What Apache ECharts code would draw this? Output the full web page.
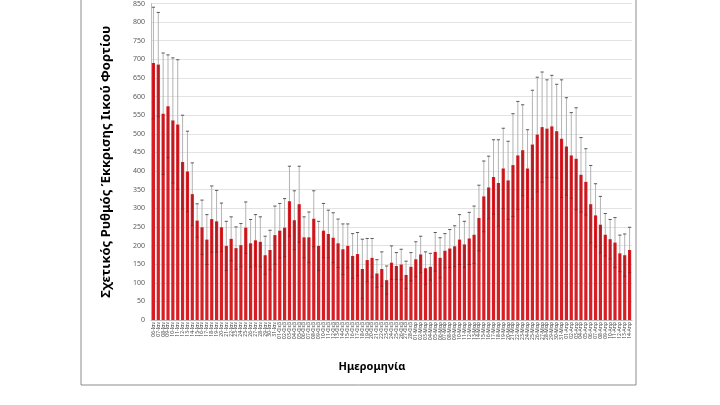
<!DOCTYPE html>
<html>
<head>
<meta charset="utf-8">
<title>Ιικό φορτίο</title>
<script src="https://cdn.jsdelivr.net/npm/echarts@6/dist/echarts.min.js"></script>
<style>
  html, body { margin: 0; padding: 0; background: #fff; }
  #main { width: 720px; height: 405px; }
</style>
</head>
<body>
<div id="main"></div>
<script>
// ημερομηνίες δειγματοληψίας
var dates = [
  '06-Ιαν','07-Ιαν','08-Ιαν','09-Ιαν','10-Ιαν','11-Ιαν','12-Ιαν','13-Ιαν','14-Ιαν','15-Ιαν',
  '16-Ιαν','17-Ιαν','18-Ιαν','19-Ιαν','20-Ιαν','21-Ιαν','22-Ιαν','23-Ιαν','24-Ιαν','25-Ιαν',
  '26-Ιαν','27-Ιαν','28-Ιαν','29-Ιαν','30-Ιαν','31-Ιαν',
  '01-Φεβ','02-Φεβ','03-Φεβ','04-Φεβ','05-Φεβ','06-Φεβ','07-Φεβ','08-Φεβ','09-Φεβ','10-Φεβ',
  '11-Φεβ','12-Φεβ','13-Φεβ','14-Φεβ','15-Φεβ','16-Φεβ','17-Φεβ','18-Φεβ','19-Φεβ','20-Φεβ',
  '21-Φεβ','22-Φεβ','23-Φεβ','24-Φεβ','25-Φεβ','26-Φεβ','27-Φεβ','28-Φεβ',
  '01-Μαρ','02-Μαρ','03-Μαρ','04-Μαρ','05-Μαρ','06-Μαρ','07-Μαρ','08-Μαρ','09-Μαρ','10-Μαρ',
  '11-Μαρ','12-Μαρ','13-Μαρ','14-Μαρ','15-Μαρ','16-Μαρ','17-Μαρ','18-Μαρ','19-Μαρ','20-Μαρ',
  '21-Μαρ','22-Μαρ','23-Μαρ','24-Μαρ','25-Μαρ','26-Μαρ','27-Μαρ','28-Μαρ','29-Μαρ','30-Μαρ','31-Μαρ',
  '01-Απρ','02-Απρ','03-Απρ','04-Απρ','05-Απρ','06-Απρ','07-Απρ','08-Απρ','09-Απρ','10-Απρ',
  '11-Απρ','12-Απρ','13-Απρ','14-Απρ'
];

// σχετικός ρυθμός (ύψος ράβδου)
var values = [
  690, 686, 554, 574, 536, 525, 424, 399, 338, 267,
  249, 216, 271, 265, 249, 199, 218, 193, 201, 248,
  206, 214, 210, 174, 188, 228, 240, 248, 319, 268,
  311, 222, 222, 272, 199, 240, 231, 221, 206, 190,
  199, 172, 177, 137, 161, 167, 125, 137, 107, 154,
  145, 149, 121, 143, 163, 176, 139, 143, 183, 167,
  186, 192, 198, 216, 203, 219, 229, 274, 332, 356,
  384, 368, 407, 375, 416, 442, 456, 407, 471, 498,
  518, 514, 520, 507, 487, 466, 442, 433, 390, 371,
  311, 281, 256, 229, 217, 208, 179, 174, 188
];

// άνω όριο της μπάρας σφάλματος
var upper = [
  840, 826, 717, 712, 704, 699, 550, 507, 422, 312,
  322, 283, 360, 348, 314, 265, 277, 250, 259, 317,
  270, 283, 277, 225, 241, 306, 313, 326, 413, 347,
  413, 277, 290, 347, 265, 313, 295, 288, 271, 258,
  258, 232, 235, 217, 219, 219, 162, 183, 145, 199,
  181, 190, 158, 181, 210, 225, 183, 179, 235, 221,
  232, 243, 253, 283, 265, 289, 306, 362, 427, 440,
  484, 484, 515, 480, 554, 587, 578, 511, 617, 652,
  666, 645, 657, 633, 645, 597, 557, 570, 490, 460,
  415, 366, 332, 286, 270, 275, 228, 231, 249
];

var yMin = 0, yMax = 850, yStep = 50;

var errData = values.map(function (v, i) {
  return [i, v - (upper[i] - v), upper[i]];
});

var chart = echarts.init(document.getElementById('main'));

chart.setOption({
  animation: false,
  textStyle: { fontFamily: 'Noto Sans' },
  grid: { left: 151, right: 88, top: 2, bottom: 85 },
  graphic: [
    {
      type: 'rect',
      shape: { x: 81, y: -5, width: 555, height: 390 },
      style: { fill: null, stroke: '#8c8c8c', lineWidth: 1 },
      silent: true
    },
    {
      type: 'text',
      x: 372, y: 367,
      style: {
        text: 'Ημερομηνία',
        font: 'bold 11px "Noto Sans"',
        fill: '#000',
        align: 'center',
        verticalAlign: 'middle'
      }
    }
  ],
  xAxis: {
    type: 'category',
    data: dates,
    axisTick: { show: false },
    axisLine: { lineStyle: { color: '#bfbfbf' } },
    axisLabel: {
      interval: 0,
      rotate: 90,
      fontSize: 5,
      color: '#404040',
      margin: 2
    }
  },
  yAxis: {
    type: 'value',
    min: yMin,
    max: yMax,
    interval: yStep,
    name: 'Σχετικός Ρυθμός Έκκρισης Ιικού Φορτίου',
    nameLocation: 'middle',
    nameRotate: 90,
    nameGap: 38,
    nameTextStyle: { fontSize: 13, fontWeight: 'bold', color: '#000' },
    axisLine: { show: true, lineStyle: { color: '#bfbfbf' } },
    axisTick: { show: false },
    axisLabel: { fontSize: 7, color: '#595959', margin: 6 },
    splitLine: { lineStyle: { color: '#e3e3e3' } }
  },
  series: [
    {
      type: 'bar',
      data: values,
      barCategoryGap: '34%',
      itemStyle: { color: '#d81e25' }
    },
    {
      type: 'custom',
      data: errData,
      z: 3,
      renderItem: function (params, api) {
        var idx = api.value(0);
        var lo = api.coord([idx, api.value(1)]);
        var hi = api.coord([idx, api.value(2)]);
        var top = api.coord([idx, values[idx]]);
        var w = 1.6;
        return {
          type: 'group',
          children: [
            { type: 'line', shape: { x1: hi[0], y1: hi[1], x2: top[0], y2: top[1] },
              style: { stroke: '#b3b3b3', lineWidth: 1 } },
            { type: 'line', shape: { x1: top[0], y1: top[1], x2: lo[0], y2: lo[1] },
              style: { stroke: '#8a1a1a', lineWidth: 1, opacity: 0.6 } },
            { type: 'line', shape: { x1: hi[0] - w, y1: hi[1], x2: hi[0] + w, y2: hi[1] },
              style: { stroke: '#595959', lineWidth: 1 } },
            { type: 'line', shape: { x1: lo[0] - w, y1: lo[1], x2: lo[0] + w, y2: lo[1] },
              style: { stroke: '#7a1a1a', lineWidth: 1, opacity: 0.6 } }
          ]
        };
      }
    }
  ]
});
</script>
</body>
</html>
